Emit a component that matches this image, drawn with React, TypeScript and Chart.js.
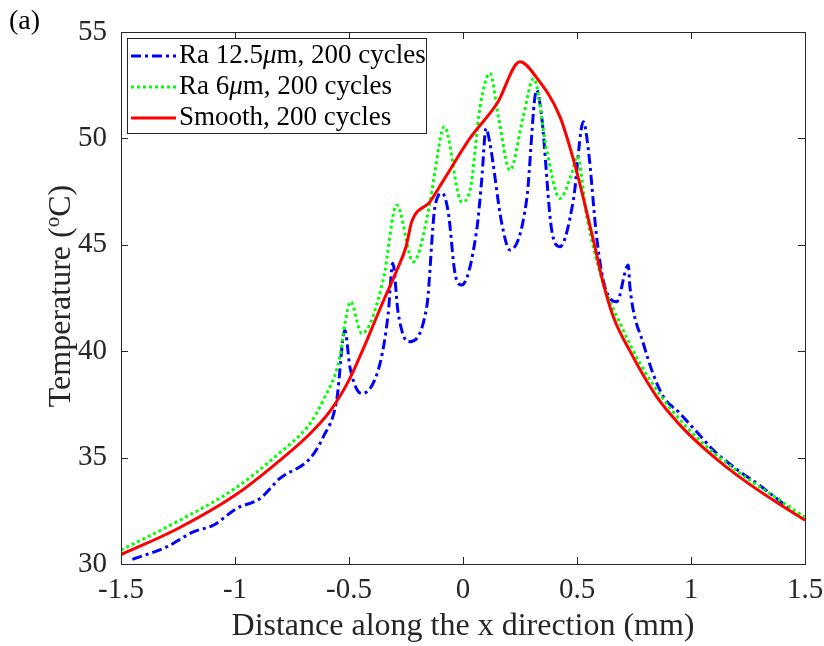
import { useEffect, useRef } from "react";
import { Chart, registerables } from "chart.js";

Chart.register(...registerables);

// ---- Data ----
const xTicks = [-1.5, -1, -0.5, 0, 0.5, 1, 1.5];
const yTicks = [30, 35, 40, 45, 50, 55];

const seriesLabels = ["Ra 12.5μm, 200 cycles", "Ra 6μm, 200 cycles", "Smooth, 200 cycles"];

const blueX = [-1.45, -1.3, -1.183, -1.095, -0.993, -0.89, -0.803, -0.671, -0.613, -0.554, -0.518, -0.496, -0.444, -0.364, -0.328, -0.308, -0.284, -0.24, -0.159, -0.123, -0.091, -0.064, -0.035, -0.006, 0.06, 0.082, 0.101, 0.118, 0.17, 0.206, 0.279, 0.323, 0.345, 0.389, 0.425, 0.484, 0.528, 0.55, 0.586, 0.615, 0.645, 0.674, 0.725, 0.732, 0.791, 0.871, 0.952, 1.025, 1.098, 1.2, 1.3, 1.45];
const blueY = [30.22, 30.8, 31.51, 31.82, 32.61, 33.08, 34.02, 34.96, 35.97, 37.7, 40.99, 39.26, 38.01, 39.42, 41.77, 44.13, 41.77, 40.44, 42.09, 46.79, 47.42, 46.48, 43.66, 43.11, 45.69, 48.04, 50.47, 49.77, 46.01, 44.75, 47.1, 52.27, 51.02, 45.69, 44.91, 47.1, 50.78, 49.45, 45.38, 43.34, 42.48, 42.32, 44.05, 43.03, 40.36, 38.01, 37.07, 36.21, 35.35, 34.45, 33.7, 32.45];

const greenX = [-1.5, -1.256, -1.0, -0.817, -0.671, -0.613, -0.54, -0.518, -0.493, -0.444, -0.35, -0.291, -0.218, -0.145, -0.129, -0.082, -0.006, 0.031, 0.075, 0.118, 0.155, 0.206, 0.264, 0.31, 0.367, 0.425, 0.477, 0.501, 0.543, 0.615, 0.689, 0.777, 0.864, 0.95, 1.05, 1.15, 1.25, 1.375, 1.5];
const greenY = [30.65, 31.98, 33.55, 35.11, 36.6, 37.7, 39.73, 41.3, 42.32, 40.83, 43.34, 46.87, 44.2, 46.96, 48.04, 50.55, 47.02, 47.57, 51.49, 53.06, 51.02, 48.51, 51.02, 52.82, 49.45, 47.18, 48.36, 49.17, 46.32, 43.19, 41.3, 39.42, 37.95, 36.8, 35.7, 34.8, 34.0, 33.1, 32.2];

const redX = [-1.5, -1.25, -1.0, -0.82, -0.67, -0.58, -0.5, -0.44, -0.36, -0.29, -0.25, -0.24, -0.225, -0.145, -0.085, 0.03, 0.15, 0.25, 0.32, 0.425, 0.485, 0.53, 0.575, 0.615, 0.66, 0.73, 0.85, 0.95, 1.05, 1.15, 1.25, 1.375, 1.5];
const redY = [30.44, 31.67, 33.23, 34.72, 36.13, 37.23, 38.64, 40.05, 42.09, 43.81, 44.91, 45.38, 46.08, 47.02, 48.04, 50.0, 51.65, 53.6, 52.9, 51.02, 48.98, 47.1, 45.07, 43.2, 41.6, 40.05, 37.85, 36.55, 35.5, 34.6, 33.8, 32.9, 32.06];

// ---- Styles ----
const FONT = "'Liberation Serif', 'Times New Roman', serif";
const AXIS_COLOR = "#262626";
const colors = ["#0000ff", "#00ff00", "#ff0000"];
const dashes = [[10, 4, 3, 4], [3, 3], []];

const toPts = (xs: number[], ys: number[]) => xs.map((x, i) => ({ x, y: ys[i] }));

const framePlugin = {
  id: "frameAndText",
  afterDraw(chart: any) {
    const ctx = chart.ctx as CanvasRenderingContext2D;
    const { left, right, top, bottom } = chart.chartArea;
    const xs = chart.scales.x;
    const ys = chart.scales.y;
    ctx.save();
    ctx.setLineDash([]);
    ctx.strokeStyle = AXIS_COLOR;
    ctx.lineWidth = 1;
    ctx.strokeRect(Math.round(left) + 0.5, Math.round(top) + 0.5, Math.round(right - left), Math.round(bottom - top));
    const tl = 7;
    ctx.beginPath();
    xTicks.forEach((v) => {
      const p = Math.round(xs.getPixelForValue(v)) + 0.5;
      ctx.moveTo(p, bottom);
      ctx.lineTo(p, bottom - tl);
      ctx.moveTo(p, top);
      ctx.lineTo(p, top + tl);
    });
    yTicks.forEach((v) => {
      const p = Math.round(ys.getPixelForValue(v)) + 0.5;
      ctx.moveTo(left, p);
      ctx.lineTo(left + tl, p);
      ctx.moveTo(right, p);
      ctx.lineTo(right - tl, p);
    });
    ctx.stroke();

    // Legend
    const bx = 127, by = 38, bw = 299, bh = 95;
    ctx.fillStyle = "#ffffff";
    ctx.fillRect(bx, by, bw, bh);
    ctx.strokeStyle = AXIS_COLOR;
    ctx.strokeRect(bx + 0.5, by + 0.5, bw, bh);
    const rows = [56, 87, 118];
    seriesLabels.forEach((label, i) => {
      const y = rows[i];
      ctx.save();
      ctx.strokeStyle = colors[i];
      ctx.lineWidth = 3;
      ctx.setLineDash(dashes[i]);
      ctx.beginPath();
      ctx.moveTo(131, y);
      ctx.lineTo(176, y);
      ctx.stroke();
      ctx.restore();
      ctx.fillStyle = "#000000";
      ctx.textBaseline = "middle";
      ctx.textAlign = "left";
      let x = 179;
      const parts = label.split("μ");
      parts.forEach((part, k) => {
        ctx.font = `27px ${FONT}`;
        ctx.fillText(part, x, y);
        x += ctx.measureText(part).width;
        if (k < parts.length - 1) {
          ctx.font = `italic 27px ${FONT}`;
          ctx.fillText("μ", x, y);
          x += ctx.measureText("μ").width;
        }
      });
    });

    // X title
    ctx.fillStyle = "#262626";
    ctx.font = `32px ${FONT}`;
    ctx.textAlign = "center";
    ctx.textBaseline = "middle";
    ctx.fillText("Distance along the x direction (mm)", (left + right) / 2, 627);

    // Y title with superscript o
    ctx.save();
    ctx.translate(62, (top + bottom) / 2 - 2);
    ctx.rotate(-Math.PI / 2);
    ctx.textAlign = "left";
    ctx.textBaseline = "middle";
    const big = `32px ${FONT}`;
    const small = `21px ${FONT}`;
    ctx.font = big;
    const a = "Temperature (";
    const c = "C)";
    const wa = ctx.measureText(a).width;
    const wc = ctx.measureText(c).width;
    ctx.font = small;
    const wo = ctx.measureText("o").width;
    let sx = -(wa + wo + wc) / 2;
    ctx.font = big;
    ctx.fillText(a, sx, 0);
    sx += wa;
    ctx.font = small;
    ctx.fillText("o", sx, -9);
    sx += wo;
    ctx.font = big;
    ctx.fillText(c, sx, 0);
    ctx.restore();

    // Panel label
    ctx.fillStyle = "#000000";
    ctx.font = `28px ${FONT}`;
    ctx.textAlign = "left";
    ctx.textBaseline = "middle";
    ctx.fillText("(a)", 9, 22);
    ctx.restore();
  },
};

export default function App() {
  const ref = useRef<HTMLCanvasElement>(null);
  useEffect(() => {
    if (!ref.current) return;
    const mk = (i: number, xs: number[], ys: number[], order: number) => ({
      label: seriesLabels[i],
      data: toPts(xs, ys),
      borderColor: colors[i],
      backgroundColor: colors[i],
      borderWidth: 3,
      borderDash: dashes[i],
      pointRadius: 0,
      fill: false,
      cubicInterpolationMode: "monotone" as const,
      order,
    });
    const chart = new Chart(ref.current, {
      type: "line",
      data: {
        datasets: [mk(0, blueX, blueY, 3), mk(1, greenX, greenY, 2), mk(2, redX, redY, 1)],
      },
      options: {
        animation: false,
        responsive: false,
        devicePixelRatio: 1,
        layout: { padding: { left: 0, top: 32, right: 19, bottom: 0 } },
        plugins: { legend: { display: false }, tooltip: { enabled: false } },
        elements: { point: { radius: 0 } },
        scales: {
          x: {
            type: "linear",
            min: -1.5,
            max: 1.5,
            grid: { display: false, drawTicks: false },
            border: { display: false },
            afterBuildTicks: (s: any) => {
              s.ticks = xTicks.map((v) => ({ value: v }));
            },
            afterFit: (s: any) => {
              s.height = 82;
              s.paddingLeft = 0;
              s.paddingRight = 0;
            },
            ticks: {
              autoSkip: false,
              maxRotation: 0,
              padding: 9,
              color: "#262626",
              font: { family: FONT, size: 29 },
              callback: (v: any) => String(v),
            },
          },
          y: {
            type: "linear",
            min: 30,
            max: 55,
            grid: { display: false, drawTicks: false },
            border: { display: false },
            afterBuildTicks: (s: any) => {
              s.ticks = yTicks.map((v) => ({ value: v }));
            },
            afterFit: (s: any) => {
              s.width = 121;
              s.paddingTop = 0;
              s.paddingBottom = 0;
            },
            ticks: {
              autoSkip: false,
              padding: 14,
              color: "#262626",
              font: { family: FONT, size: 29 },
              callback: (v: any) => String(v),
            },
          },
        },
      },
      plugins: [framePlugin],
    });
    return () => chart.destroy();
  }, []);
  return (
    <canvas
      ref={ref}
      width={824}
      height={646}
      style={{ position: "absolute", left: 0, top: 0, width: 824, height: 646 }}
    />
  );
}
